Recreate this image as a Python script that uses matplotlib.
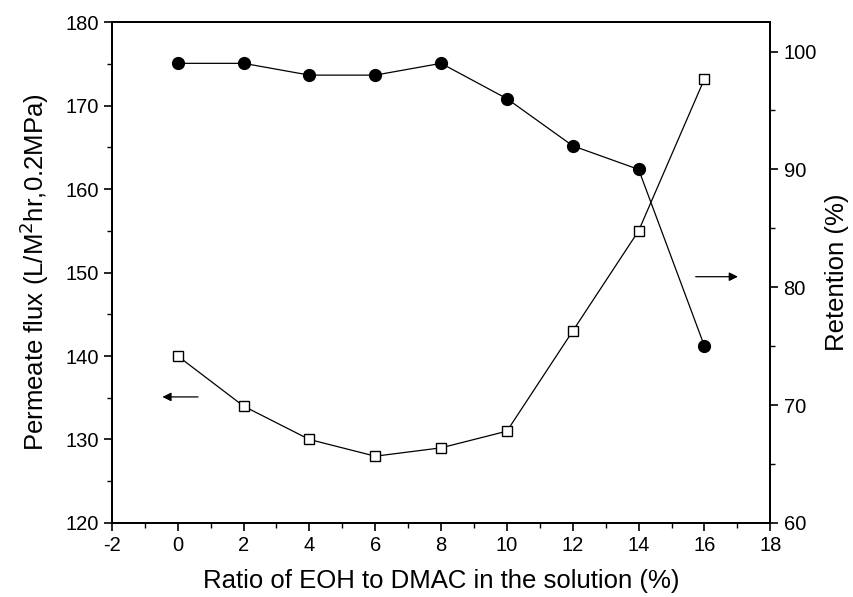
import matplotlib
matplotlib.use("Agg")
import matplotlib.pyplot as plt
from matplotlib.ticker import MultipleLocator

plt.rcParams["font.family"] = ["Liberation Sans", "DejaVu Sans"]
plt.rcParams["axes.unicode_minus"] = False

# data
ratio = [0, 2, 4, 6, 8, 10, 12, 14, 16]
flux = [140, 134, 130, 128, 129, 131, 143, 155, 173.2]
retention = [99, 99, 98, 98, 99, 96, 92, 90, 75]

fig = plt.figure(figsize=(8.54, 5.97), dpi=100)
ax = fig.add_axes([0.131, 0.124, 0.771, 0.839])
ax2 = ax.twinx()

ax.plot(ratio, flux, color="black", lw=0.9, marker="s", ms=7,
        mfc="white", mec="black", mew=1.0, zorder=3)
ax2.plot(ratio, retention, color="black", lw=0.9, marker="o", ms=8.5,
         mfc="black", mec="black", zorder=3)

ax.set_xlim(-2, 18)
ax.set_ylim(120, 180)
ax2.set_ylim(60, 102.5)

ax.xaxis.set_major_locator(MultipleLocator(2))
ax.xaxis.set_minor_locator(MultipleLocator(1))
ax.yaxis.set_major_locator(MultipleLocator(10))
ax.yaxis.set_minor_locator(MultipleLocator(5))
ax2.yaxis.set_major_locator(MultipleLocator(10))
ax2.yaxis.set_minor_locator(MultipleLocator(5))

for a in (ax, ax2):
    a.tick_params(which="major", direction="out", length=6, width=1.2, labelsize=14.5)
    a.tick_params(which="minor", direction="out", length=3.5, width=1.0)
    for s in a.spines.values():
        s.set_linewidth(1.3)

ax.set_xlabel("Ratio of EOH to DMAC in the solution (%)", fontsize=18.5, labelpad=10)
ax.set_ylabel("Permeate flux (L/M$^2$hr,0.2MPa)", fontsize=18.5, labelpad=10)
ax2.set_ylabel("Retention (%)", fontsize=18.5, labelpad=6)

# arrows pointing at the axis each series belongs to
ax.annotate("", xy=(-0.55, 135.1), xytext=(0.7, 135.1),
            arrowprops=dict(arrowstyle="-|>", color="black", lw=0.9, mutation_scale=13))
ax.annotate("", xy=(17.1, 149.5), xytext=(15.65, 149.5),
            arrowprops=dict(arrowstyle="-|>", color="black", lw=0.9, mutation_scale=13))

fig.savefig("out.png", dpi=100)
